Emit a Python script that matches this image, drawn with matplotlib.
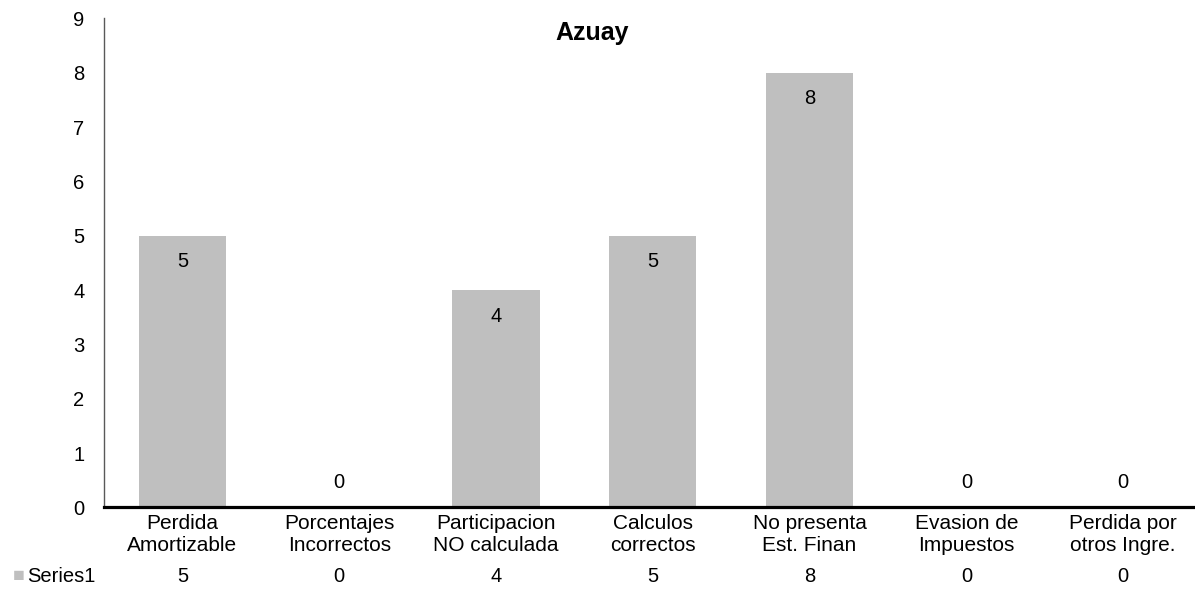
import matplotlib.pyplot as plt
from matplotlib import transforms

plt.rcParams['font.family'] = ['Liberation Sans', 'DejaVu Sans']

categories = ["Perdida\nAmortizable", "Porcentajes\nIncorrectos", "Participacion\nNO calculada",
              "Calculos\ncorrectos", "No presenta\nEst. Finan", "Evasion de\nImpuestos",
              "Perdida por\notros Ingre."]
values = [5, 0, 4, 5, 8, 0, 0]
series_name = "Series1"
title = "Azuay"

bar_color = "#BFBFBF"

fig = plt.figure(figsize=(11.95, 5.9), dpi=100)
# axes run a little past the right edge, like the exported sheet
W, H = 1195, 590
left, right, top, bottom = 104, 1201.6, 18.4, 507.4
ax = fig.add_axes([left / W, 1 - bottom / H, (right - left) / W, (bottom - top) / H])

xs = list(range(len(values)))
ax.bar(xs, values, width=0.555, color=bar_color, zorder=2)
ax.set_xlim(-0.5, len(values) - 0.5)
ax.set_ylim(0, 9)
ax.set_yticks(range(0, 10))
ax.tick_params(axis='y', length=0, pad=14, labelsize=14.5)

ax.set_xticks(xs)
ax.set_xticklabels(categories, fontsize=15, linespacing=1.2)
ax.tick_params(axis='x', length=0, pad=5)

for side in ("top", "right"):
    ax.spines[side].set_visible(False)
ax.spines["left"].set_color("#595959")
ax.spines["left"].set_linewidth(1.0)
ax.spines["bottom"].set_color("black")
ax.spines["bottom"].set_linewidth(2.3)
ax.spines["bottom"].set_zorder(3)

# value labels: inside the top of each bar, above the axis for zeros
for x, v in zip(xs, values):
    y = v - 0.48 if v > 0 else 0.45
    ax.text(x, y, str(v), ha="center", va="center", fontsize=14.5)

# data table row under the category labels
trans = transforms.blended_transform_factory(ax.transData, fig.transFigure)
row_y = 1 - 577 / H
for x, v in zip(xs, values):
    ax.text(x, row_y, str(v), transform=trans, ha="center", va="center", fontsize=14.5)
fig.text(27 / W, row_y, series_name, ha="left", va="center", fontsize=14.5)
fig.text(13 / W, row_y, "\u25A0", ha="left", va="center", fontsize=14, color=bar_color)

fig.text(592 / W, 1 - 33 / H, title, ha="center", va="center", fontsize=18, fontweight="bold")

fig.savefig("out.png", dpi=100)
